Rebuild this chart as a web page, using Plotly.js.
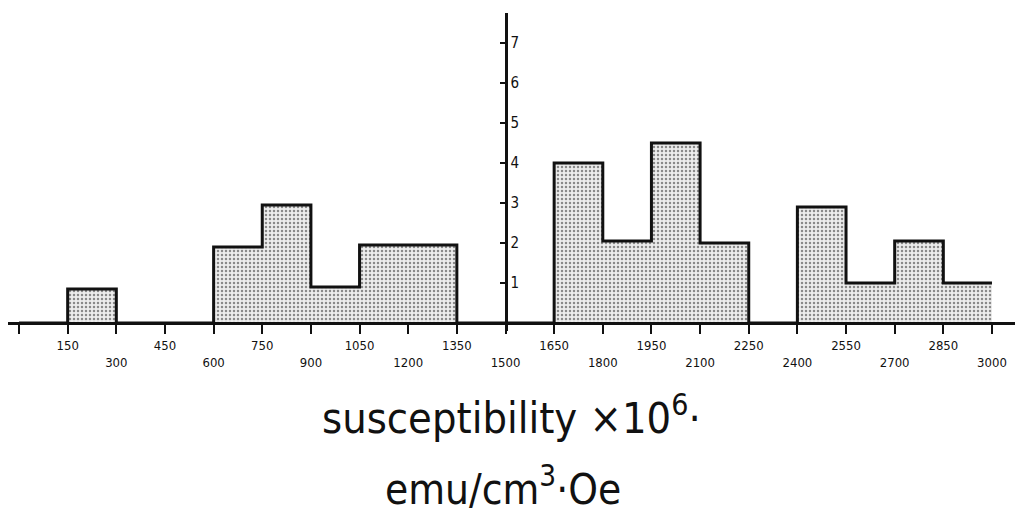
<!DOCTYPE html>
<html>
<head>
<meta charset="utf-8">
<script src="https://cdn.plot.ly/plotly-3.0.1.min.js"></script>
<style>html,body{margin:0;padding:0;background:#fff;}#chart{width:1019px;height:518px;}</style>
</head>
<body>
<div id="chart"></div>
<script>
// bin edges (susceptibility x10^6, emu/cm3·Oe)
const binEdges = [0,150,300,450,600,750,900,1050,1200,1350,1500,1650,1800,1950,2100,2250,2400,2550,2700,2850,3000];
// frequency in each 150-wide bin
const counts = [0,0.85,0,0,1.9,2.95,0.9,1.95,1.95,0,0,4.0,2.05,4.5,2.0,0,2.9,1.0,2.05,1.0];
// x tick values and labels (labels alternate between two rows; origin tick unlabeled)
const xTickVals = binEdges;
const xTickLabels = ["","150","300","450","600","750","900","1050","1200","1350","1500","1650","1800","1950","2100","2250","2400","2550","2700","2850","3000"];
const lowerRow = [300,600,900,1200,1500,1800,2100,2400,2700,3000];
const yTickVals = [1,2,3,4,5,6,7];
const yTickLabels = ["1","2","3","4","5","6","7"];

const stepX = binEdges.slice();
const stepY = counts.concat([counts[counts.length-1]]);
const tickText = xTickVals.map((v,i) => lowerRow.indexOf(v) >= 0 ? "<br>" + xTickLabels[i] : xTickLabels[i]);

const xr = [-34, 3071];
const yr = [-0.2, 7.75];

const trace = {
  x: stepX, y: stepY, type: 'scatter', mode: 'lines',
  line: {shape: 'hv', color: '#111', width: 3},
  fill: 'tozeroy',
  fillcolor: '#e8e8e8',
  fillpattern: {shape: '.', bgcolor: '#ededed', fgcolor: '#8a8a8a', size: 4, solidity: 0.3},
  hoverinfo: 'skip'
};

const layout = {
  width: 1019, height: 518,
  margin: {l: 8, r: 4, t: 13, b: 187},
  paper_bgcolor: '#fff', plot_bgcolor: '#fff',
  showlegend: false,
  font: {family: 'DejaVu Sans Condensed, DejaVu Sans', color: '#111'},
  xaxis: {
    range: xr, showgrid: false, zeroline: false,
    showline: true, linecolor: '#111', linewidth: 3,
    anchor: 'free', position: (0 - yr[0]) / (yr[1] - yr[0]),
    ticks: 'outside', ticklen: 9, tickwidth: 2, tickcolor: '#111',
    tickmode: 'array', tickvals: xTickVals, ticktext: tickText,
    tickfont: {size: 13, family: 'DejaVu Sans Condensed, DejaVu Sans', color: '#111'},
    fixedrange: true
  },
  yaxis: {
    range: yr, showgrid: false, zeroline: false,
    showline: true, linecolor: '#111', linewidth: 3,
    anchor: 'free', position: (1500 - xr[0]) / (xr[1] - xr[0]),
    side: 'right', ticks: 'inside', ticklen: 5, tickwidth: 2, tickcolor: '#111',
    tickmode: 'array', tickvals: yTickVals, ticktext: yTickLabels,
    tickfont: {size: 15, family: 'DejaVu Sans Condensed, DejaVu Sans', color: '#111'},
    fixedrange: true
  },
  annotations: [
    {text: 'susceptibility ×10<sup>6</sup>·', xref: 'paper', yref: 'paper', x: 0.5, y: -0.265,
     xanchor: 'center', yanchor: 'middle', showarrow: false,
     font: {size: 43, family: 'DejaVu Sans Condensed, DejaVu Sans', color: '#111'}},
    {text: 'emu/cm<sup>3</sup>·Oe', xref: 'paper', yref: 'paper', x: 0.492, y: -0.49,
     xanchor: 'center', yanchor: 'middle', showarrow: false,
     font: {size: 42, family: 'DejaVu Sans Condensed, DejaVu Sans', color: '#111'}}
  ]
};

Plotly.newPlot('chart', [trace], layout, {displayModeBar: false, staticPlot: true});
</script>
</body>
</html>
